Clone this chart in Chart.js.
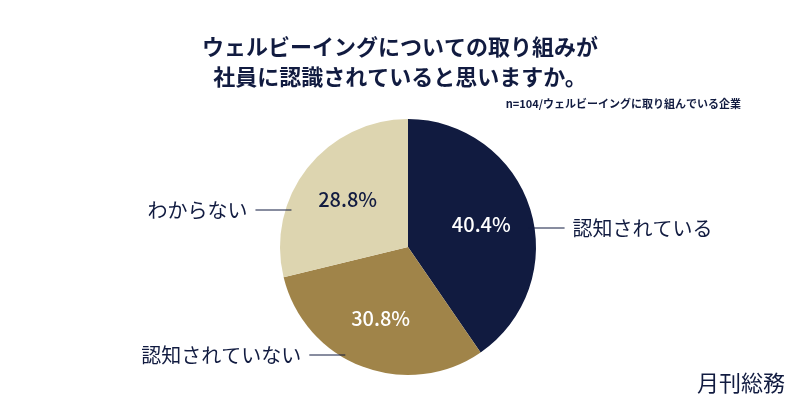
<!DOCTYPE html>
<html><head><meta charset="utf-8">
<script src="https://cdn.jsdelivr.net/npm/chart.js@4/dist/chart.umd.min.js"></script>
<style>html,body{margin:0;background:#fff}#wrap{width:800px;height:419px}</style>
</head><body><div id="wrap"><canvas id="c"></canvas></div>
<script>
const categories = ['認知されている', '認知されていない', 'わからない'];
const values = [40.4, 30.8, 28.8];
const colors = ['#111b40', '#a08449', '#ddd5b0'];
const pctColors = ['#ffffff', '#ffffff', '#111b40'];
const titleLines = ['ウェルビーイングについての取り組みが', '社員に認識されていると思いますか。'];
const note = 'n=104/ウェルビーイングに取り組んでいる企業';

// label placement: side and y for each slice
const labelPos = [{side: 1, y: 228}, {side: -1, y: 355}, {side: -1, y: 210}];
const font = '"Noto Sans CJK JP", "Noto Sans", sans-serif';

const deco = {
  id: 'deco',
  afterDraw(chart) {
    let ctx = chart.ctx;
    ctx.save();
    ctx.fillStyle = '#111b40';
    ctx.textAlign = 'center';
    ctx.textBaseline = 'middle';
    ctx.font = 'bold 22px ' + font;
    ctx.fillText(titleLines[0], 400, 47);
    ctx.fillText(titleLines[1], 400, 77);
    ctx.font = 'bold 11px ' + font;
    ctx.textAlign = 'right';
    ctx.fillText(note, 741, 104);
    ctx.font = '22px ' + font;
    ctx.fillText('月刊総務', 785, 383);

    let arcs = chart.getDatasetMeta(0).data;
    for (let i = 0; i < arcs.length; i++) {
      let a = arcs[i];
      let mid = (a.startAngle + a.endAngle) / 2;
      let r = a.outerRadius * 0.6;
      ctx.fillStyle = pctColors[i];
      ctx.textAlign = 'center';
      ctx.font = '500 20px ' + font;
      ctx.fillText(values[i].toFixed(1) + '%', a.x + Math.cos(mid) * r, a.y + Math.sin(mid) * r);

      let lp = labelPos[i];
      let dy = lp.y - a.y;
      let edge = a.x + lp.side * Math.sqrt(a.outerRadius * a.outerRadius - dy * dy);
      ctx.strokeStyle = '#111b40';
      ctx.lineWidth = 1;
      ctx.beginPath();
      ctx.moveTo(edge - lp.side * 6, lp.y);
      ctx.lineTo(edge + lp.side * 30, lp.y);
      ctx.stroke();
      ctx.fillStyle = '#111b40';
      ctx.font = '20px ' + font;
      ctx.textAlign = lp.side > 0 ? 'left' : 'right';
      ctx.fillText(categories[i], edge + lp.side * 38, lp.y);
    }
    ctx.restore();
  }
};

new Chart(document.getElementById('c'), {
  type: 'pie',
  data: {
    labels: categories,
    datasets: [{data: values, backgroundColor: colors, borderWidth: 0}]
  },
  options: {
    responsive: true,
    maintainAspectRatio: false,
    animation: false,
    layout: {padding: {top: 119, bottom: 44, left: 280, right: 264}},
    plugins: {legend: {display: false}, tooltip: {enabled: false}}
  },
  plugins: [deco]
});
</script></body></html>
